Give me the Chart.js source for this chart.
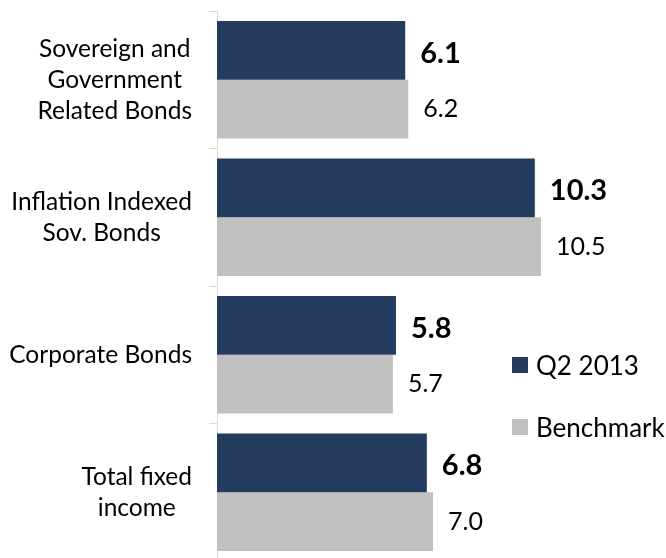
<!DOCTYPE html>
<html>
<head>
<meta charset="utf-8">
<script src="https://cdn.jsdelivr.net/npm/chart.js@4.4.0/dist/chart.umd.min.js"></script>
<style>
    html, body { margin: 0; padding: 0; background: #fff; overflow: hidden; }
    #wrap { position: relative; width: 666px; height: 561px; }
    .legend { position: absolute; left: 512px; font-family: Lato, sans-serif; font-size: 26px; color: #000; display: flex; align-items: center; }
    .legend span.box { display: inline-block; width: 16px; height: 16px; margin-right: 8px; }
</style>
</head>
<body>
<div id="wrap">
    <canvas id="chart"></canvas>
    <div class="legend" style="top: 349px;"><span class="box" style="background:#243c5f"></span>Q2 2013</div>
    <div class="legend" style="top: 411px;"><span class="box" style="background:#c0c0c0"></span>Benchmark</div>
</div>
<script>
// Categories and values
const categories = [
    ['Sovereign and', 'Government', 'Related Bonds'],
    ['Inflation Indexed', 'Sov. Bonds'],
    ['Corporate Bonds'],
    ['Total fixed', 'income']
];
const q2_2013 = [6.1, 10.3, 5.8, 6.8];
const benchmark = [6.2, 10.5, 5.7, 7.0];

const FONT = 'Lato, sans-serif';

// Multi-line category labels: each block right aligned, lines centred
const categoryLabels = {
    id: 'categoryLabels',
    afterDraw(chart) {
        const ctx = chart.ctx;
        const yScale = chart.scales.y;
        const right = chart.chartArea.left - 25;
        const lineHeight = 31;
        ctx.save();
        ctx.font = '24.5px ' + FONT;
        ctx.fillStyle = '#000';
        ctx.textAlign = 'center';
        ctx.textBaseline = 'middle';
        categories.forEach((lines, i) => {
            const widest = Math.max(...lines.map(l => ctx.measureText(l).width));
            const cx = right - widest / 2;
            const cy = yScale.getPixelForValue(i);
            const top = cy - (lines.length - 1) * lineHeight / 2;
            lines.forEach((l, j) => ctx.fillText(l, cx, top + j * lineHeight));
        });
        ctx.restore();
    }
};

// Value labels at the end of each bar
const valueLabels = {
    id: 'valueLabels',
    afterDatasetsDraw(chart) {
        const ctx = chart.ctx;
        ctx.save();
        ctx.fillStyle = '#000';
        ctx.textAlign = 'left';
        ctx.textBaseline = 'middle';
        chart.data.datasets.forEach((ds, di) => {
            const meta = chart.getDatasetMeta(di);
            ctx.font = (di === 0 ? 'bold 29px ' : '25px ') + FONT;
            meta.data.forEach((bar, i) => {
                ctx.fillText(ds.data[i].toFixed(1), bar.x + 15, bar.y + (di === 0 ? 3 : 0));
            });
        });
        ctx.restore();
    }
};

new Chart(document.getElementById('chart'), {
    type: 'bar',
    data: {
        labels: categories,
        datasets: [
            {
                label: 'Q2 2013',
                data: q2_2013,
                backgroundColor: '#243c5f',
                categoryPercentage: 0.855,
                barPercentage: 1.0
            },
            {
                label: 'Benchmark',
                data: benchmark,
                backgroundColor: '#c0c0c0',
                categoryPercentage: 0.855,
                barPercentage: 1.0
            }
        ]
    },
    options: {
        indexAxis: 'y',
        responsive: true,
        maintainAspectRatio: false,
        animation: false,
        layout: {
            padding: { left: 209, right: 17, top: 11, bottom: 0 }
        },
        plugins: {
            legend: { display: false },
            tooltip: { enabled: false }
        },
        scales: {
            x: {
                display: false,
                min: 0,
                max: 14
            },
            y: {
                ticks: { display: false },
                grid: {
                    drawOnChartArea: false,
                    color: '#d9d9d9',
                    tickLength: 8
                },
                border: { color: '#d9d9d9' }
            }
        }
    },
    plugins: [categoryLabels, valueLabels]
});
</script>
</body>
</html>
